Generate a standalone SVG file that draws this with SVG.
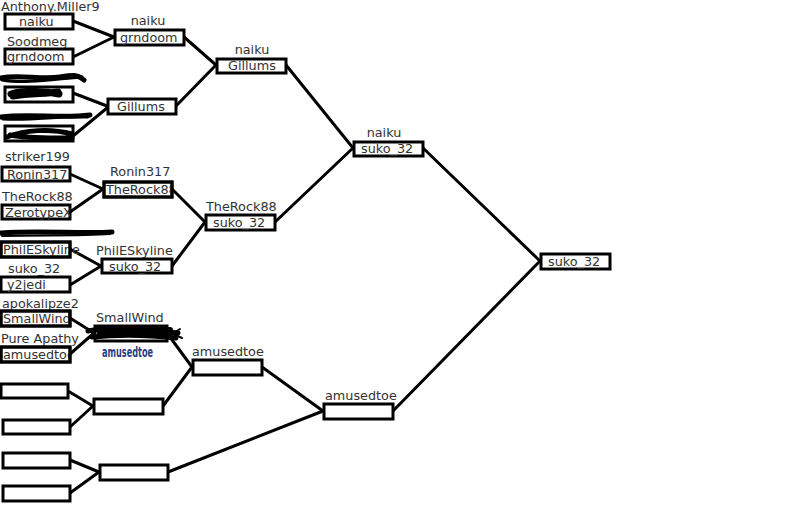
<svg xmlns="http://www.w3.org/2000/svg" width="800" height="514" viewBox="0 0 800 514">
<style>
.bg{fill:#fff}
.b{fill:#fff;stroke:#000;stroke-width:3}
.bo{fill:none;stroke:#000;stroke-width:3}
text{font-family:"DejaVu Sans","Verdana",sans-serif;font-size:12.8px;fill:#333}
.c line{stroke:#000;stroke-width:3;stroke-linecap:round}
.s{fill:none;stroke:#000;stroke-linecap:round;stroke-linejoin:round}
</style>
<defs>
<clipPath id="cp9"><rect x="1" y="311" width="69" height="15"/></clipPath>
<clipPath id="cp10"><rect x="1" y="347" width="69" height="15"/></clipPath>
<clipPath id="cp23"><rect x="104" y="182" width="68" height="15"/></clipPath>
</defs>
<rect class="bg" x="0" y="0" width="800" height="514"/>
<g class="c" id="connectors">
<line x1="73" y1="21" x2="114" y2="37"/>
<line x1="73" y1="57" x2="114" y2="37"/>
<line x1="73" y1="93" x2="107" y2="106"/>
<line x1="73" y1="136" x2="107" y2="108"/>
<line x1="184" y1="37" x2="216" y2="65"/>
<line x1="176" y1="106" x2="216" y2="65"/>
<line x1="286" y1="65" x2="353" y2="148"/>
<line x1="275" y1="222" x2="353" y2="148"/>
<line x1="423" y1="148" x2="540" y2="261"/>
<line x1="393" y1="411" x2="540" y2="261"/>
<line x1="70" y1="174" x2="103" y2="189"/>
<line x1="70" y1="212" x2="103" y2="189"/>
<line x1="172" y1="189" x2="205" y2="222"/>
<line x1="172" y1="266" x2="205" y2="222"/>
<line x1="70" y1="249" x2="101" y2="266"/>
<line x1="70" y1="285" x2="101" y2="266"/>
<line x1="70" y1="318" x2="94" y2="333"/>
<line x1="70" y1="354" x2="94" y2="333"/>
<line x1="167" y1="333" x2="192" y2="367"/>
<line x1="163" y1="406" x2="192" y2="367"/>
<line x1="68" y1="391" x2="93" y2="406"/>
<line x1="70" y1="427" x2="93" y2="406"/>
<line x1="262" y1="367" x2="323" y2="411"/>
<line x1="168" y1="472" x2="323" y2="411"/>
<line x1="70" y1="460" x2="99" y2="472"/>
<line x1="70" y1="493" x2="99" y2="472"/>
</g>
<!-- Round 1 -->
<g id="r1-1"><text x="1" y="11">Anthony.Miller9</text><rect class="b" x="5" y="14" width="68" height="15"/><text x="19" y="26">naiku</text></g>
<g id="r1-2"><text x="7" y="46">Soodmeg</text><rect class="b" x="5" y="49" width="68" height="15"/><text x="7" y="61">grndoom</text></g>
<g id="r1-3"><rect class="b" x="5" y="87" width="68" height="15"/><path class="s" stroke-width="5" d="M1,78 C20,74 40,80 60,77 S78,76 84,80"/><path class="s" stroke-width="3" d="M2,80 C25,84 55,79 82,77"/><path class="s" stroke-width="7" d="M11,94 C25,90 45,91 59,94 M13,96 C30,93 45,94 58,92"/></g>
<g id="r1-4"><rect class="b" x="5" y="126" width="68" height="15"/><path class="s" stroke-width="5" d="M1,117 C30,113 60,119 90,115"/><path class="s" stroke-width="3" d="M3,119 C35,121 60,115 88,117"/><path class="s" stroke-width="5" d="M7,137 C25,130 50,128 72,134 M10,135 C30,139 55,138 72,138"/></g>
<g id="r1-5"><text x="5" y="161">striker199</text><rect class="b" x="2" y="167" width="68" height="14"/><text x="7" y="179">Ronin317</text></g>
<g id="r1-6"><text x="2" y="201">TheRock88</text><rect class="b" x="2" y="205" width="68" height="14"/><text x="5" y="217">ZerotypeX</text></g>
<g id="r1-7"><path class="s" stroke-width="5" d="M1,233 C40,230 80,234 112,232"/><path class="s" stroke-width="2" d="M2,236 C40,235 80,236 110,234"/><rect class="b" x="1" y="242" width="69" height="15"/><text x="3" y="254">PhilESkyline</text><rect class="bo" x="1" y="242" width="69" height="15"/></g>
<g id="r1-8"><text x="8" y="273">suko_32</text><rect class="b" x="1" y="277" width="69" height="15"/><text x="7" y="289">y2jedi</text></g>
<g id="r1-9"><text x="2" y="308">apokalipze2</text><rect class="b" x="1" y="311" width="69" height="15"/><text x="3" y="323" clip-path="url(#cp9)">SmallWind</text><rect class="bo" x="1" y="311" width="69" height="15"/></g>
<g id="r1-10"><text x="1" y="343">Pure Apathy</text><rect class="b" x="1" y="347" width="69" height="15"/><text x="3" y="359" clip-path="url(#cp10)">amusedtoe</text><rect class="bo" x="1" y="347" width="69" height="15"/></g>
<g id="r1-11"><rect class="b" x="1" y="384" width="67" height="14"/></g>
<g id="r1-12"><rect class="b" x="3" y="420" width="67" height="14"/></g>
<g id="r1-13"><rect class="b" x="3" y="453" width="67" height="15"/></g>
<g id="r1-14"><rect class="b" x="3" y="486" width="67" height="15"/></g>
<!-- Round 2 -->
<g id="r2-1"><text x="148" y="25" text-anchor="middle">naiku</text><rect class="b" x="115" y="30" width="69" height="15"/><text x="120" y="42">grndoom</text></g>
<g id="r2-2"><rect class="b" x="108" y="99" width="68" height="15"/><text x="117" y="111">Gillums</text></g>
<g id="r2-3"><text x="110" y="176">Ronin317</text><rect class="b" x="104" y="182" width="68" height="15"/><text x="106" y="194" clip-path="url(#cp23)">TheRock88</text><rect class="bo" x="104" y="182" width="68" height="15"/></g>
<g id="r2-4"><text x="96" y="255">PhilESkyline</text><rect class="b" x="102" y="259" width="70" height="14"/><text x="109" y="271">suko_32</text></g>
<g id="r2-5"><text x="96" y="322">SmallWind</text><rect class="b" x="95" y="326" width="72" height="15"/><path class="s" stroke-width="5" d="M88,331 C110,327 140,329 178,333 M92,337 C120,334 150,335 176,338"/><path class="s" stroke-width="6" d="M100,333 C125,331 150,332 166,334 M98,329 L170,330"/><path class="s" stroke-width="2" d="M160,328 L182,338 M165,338 L180,329"/><text x="102" y="357" textLength="51" lengthAdjust="spacingAndGlyphs" style="font-family:'DejaVu Sans Condensed','Liberation Sans Narrow',sans-serif;font-weight:bold;font-size:14px;fill:#2b3b85">amusedtoe</text></g>
<g id="r2-6"><rect class="b" x="94" y="399" width="69" height="15"/></g>
<g id="r2-7"><rect class="b" x="100" y="465" width="68" height="15"/></g>
<!-- Round 3 -->
<g id="r3-1"><text x="252" y="54" text-anchor="middle">naiku</text><rect class="b" x="217" y="59" width="69" height="14"/><text x="228" y="70">Gillums</text></g>
<g id="r3-2"><text x="206" y="211">TheRock88</text><rect class="b" x="206" y="215" width="69" height="15"/><text x="213" y="227">suko_32</text></g>
<g id="r3-3"><text x="192" y="356">amusedtoe</text><rect class="b" x="193" y="360" width="69" height="15"/></g>
<!-- Round 4 -->
<g id="r4-1"><text x="384" y="137" text-anchor="middle">naiku</text><rect class="b" x="354" y="142" width="69" height="14"/><text x="361" y="153">suko_32</text></g>
<g id="r4-2"><text x="325" y="400">amusedtoe</text><rect class="b" x="324" y="404" width="69" height="15"/></g>
<!-- Final -->
<g id="final"><rect class="b" x="541" y="254" width="69" height="15"/><text x="548" y="266">suko_32</text></g>
</svg>
